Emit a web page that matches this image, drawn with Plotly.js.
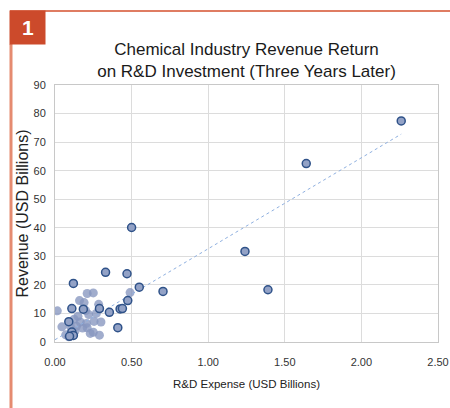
<!DOCTYPE html>
<html>
<head>
<meta charset="utf-8">
<script src="https://cdn.plot.ly/plotly-3.0.1.min.js"></script>
<style>
html,body{margin:0;padding:0;background:#fff;}
#chart{width:450px;height:408px;}
</style>
</head>
<body>
<div id="chart"></div>
<script>
// Highlighted companies (dark outlined markers)
const keyX = [2.26, 1.64, 1.24, 1.39, 0.50, 0.33, 0.47, 0.12, 0.55, 0.705, 0.475, 0.11, 0.185, 0.29, 0.355, 0.425, 0.44, 0.09, 0.41, 0.11, 0.12, 0.095];
const keyY = [77.4, 62.5, 31.7, 18.3, 40.1, 24.4, 23.9, 20.5, 19.2, 17.7, 14.5, 11.7, 11.5, 11.7, 10.4, 11.6, 11.7, 7.1, 5.0, 3.5, 2.3, 2.0];
// Other companies (light markers)
const otherX = [0.015, 0.045, 0.16, 0.19, 0.21, 0.25, 0.49, 0.285, 0.22, 0.15, 0.255, 0.30, 0.205, 0.21, 0.18, 0.14, 0.25, 0.29, 0.09, 0.105, 0.13, 0.125, 0.165, 0.10, 0.20, 0.27, 0.07, 0.23];
const otherY = [10.9, 5.3, 14.5, 13.8, 17.0, 17.2, 17.3, 13.2, 9.6, 9.0, 7.2, 7.0, 6.5, 5.0, 4.9, 5.5, 3.4, 2.4, 1.8, 3.2, 3.8, 8.0, 7.0, 5.5, 11.0, 10.0, 2.5, 3.0];
// Linear trendline end points
const trendX = [0.0, 2.26];
const trendY = [0.8, 72.8];

const xTicks = [0, 0.5, 1, 1.5, 2, 2.5];
const yTicks = [0, 10, 20, 30, 40, 50, 60, 70, 80, 90];

const W = 450, H = 408, L = 55, R = 12, T = 85, B = 66;
const pw = W - L - R, ph = H - T - B;
const px = v => (v - L) / pw;
const py = v => (H - B - v) / ph;

const font = "Liberation Sans, Arial, sans-serif";

const traces = [
  {
    x: otherX, y: otherY, mode: 'markers', type: 'scatter',
    marker: {size: 9, color: '#8696bf', opacity: 0.78, line: {width: 0}},
    showlegend: false
  },
  {
    x: trendX, y: trendY, mode: 'lines', type: 'scatter',
    line: {color: '#8fb0e0', width: 1, dash: 'dot'},
    hoverinfo: 'skip', showlegend: false
  },
  {
    x: keyX, y: keyY, mode: 'markers', type: 'scatter',
    marker: {size: 8, color: '#93a2c6', line: {color: '#2f5289', width: 1.5}},
    showlegend: false
  }
];

const layout = {
  width: W, height: H,
  margin: {l: L, r: R, t: T, b: B, pad: 0},
  paper_bgcolor: '#ffffff', plot_bgcolor: '#ffffff',
  font: {family: font, color: '#333333', size: 11},
  title: {
    text: 'Chemical Industry Revenue Return<br>on R&D Investment (Three Years Later)',
    font: {family: font, size: 17, color: '#1a1a1a'},
    x: 0.5, xref: 'paper', y: 1 - 55 / H, yref: 'container', yanchor: 'middle'
  },
  xaxis: {
    range: [0, 2.5], tickvals: xTicks, tickformat: '.2f',
    showgrid: true, gridcolor: '#dcdcdc', gridwidth: 1,
    showline: true, linecolor: '#c8c8c8', linewidth: 1, mirror: true,
    zeroline: false, ticks: '', ticklabelstandoff: 10,
    tickfont: {size: 11, color: '#333333'},
    title: {text: 'R&D Expense (USD Billions)', font: {size: 11.5, color: '#222222'}, standoff: 12},
    automargin: false, fixedrange: true
  },
  yaxis: {
    range: [0, 90], tickvals: yTicks,
    showgrid: true, gridcolor: '#dcdcdc', gridwidth: 1,
    showline: true, linecolor: '#c8c8c8', linewidth: 1, mirror: true,
    zeroline: false, ticks: '', ticklabelstandoff: 6,
    tickfont: {size: 11, color: '#333333'},
    title: {text: 'Revenue (USD Billions)', font: {size: 16, color: '#222222'}, standoff: 0},
    automargin: false, fixedrange: true
  },
  shapes: [
    {type: 'line', xref: 'paper', yref: 'paper', x0: px(10), x1: px(450), y0: py(11), y1: py(11),
     line: {color: '#d4512e', width: 1.5}},
    {type: 'line', xref: 'paper', yref: 'paper', x0: px(11), x1: px(11), y0: py(44), y1: py(408),
     line: {color: '#e58b70', width: 3}},
    {type: 'rect', xref: 'paper', yref: 'paper', x0: px(9.5), x1: px(45.5), y0: py(44.5), y1: py(10.5),
     fillcolor: '#cc4a2b', line: {width: 0}}
  ],
  annotations: [
    {text: '<b>1</b>', xref: 'paper', yref: 'paper', x: px(27.5), y: py(27.5),
     xanchor: 'center', yanchor: 'middle', showarrow: false,
     font: {family: font, size: 21, color: '#ffffff'}}
  ]
};

Plotly.newPlot('chart', traces, layout, {displayModeBar: false, staticPlot: true});
</script>
</body>
</html>
